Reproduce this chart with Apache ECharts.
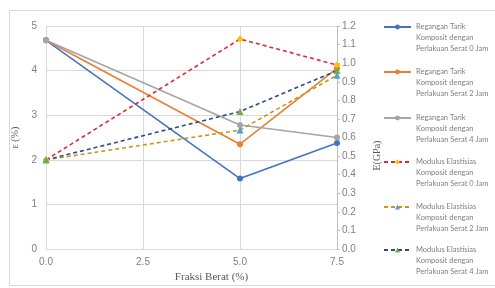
<!DOCTYPE html>
<html>
<head>
<meta charset="utf-8">
<script src="https://cdn.jsdelivr.net/npm/echarts@6/dist/echarts.min.js"></script>
<style>html,body{margin:0;padding:0;background:#fff}#c{width:495px;height:288px}</style>
</head>
<body>
<div id="c"></div>
<script>
var fractions = [0, 5, 7.5];
var xTicks = ['0.0', '2.5', '5.0', '7.5'];
var seriesNames = [
  'Regangan Tarik\nKomposit dengan\nPerlakuan Serat 0 Jam',
  'Regangan Tarik\nKomposit dengan\nPerlakuan Serat 2 Jam',
  'Regangan Tarik\nKomposit dengan\nPerlakuan Serat 4 Jam',
  'Modulus Elastisias\nKomposit dengan\nPerlakuan Serat 0 Jam',
  'Modulus Elastisias\nKomposit dengan\nPerlakuan Serat 2 Jam',
  'Modulus Elastisias\nKomposit dengan\nPerlakuan Serat 4 Jam'
];
var regangan0 = [4.68, 1.58, 2.38];
var regangan2 = [4.68, 2.35, 4.05];
var regangan4 = [4.68, 2.78, 2.50];
var modulus0 = [0.48, 1.13, 0.99];
var modulus2 = [0.48, 0.64, 0.935];
var modulus4 = [0.48, 0.74, 0.96];

function pairs(vals) { return vals.map(function (v, i) { return [fractions[i], v]; }); }

var chart = echarts.init(document.getElementById('c'), null, {renderer: 'canvas'});
var labelColor = '#7f7f7f';
var serif = '"Liberation Serif", "DejaVu Serif", serif';

function solid(name, data, color) {
  return {
    name: name, type: 'line', yAxisIndex: 0, data: pairs(data),
    symbol: 'circle', symbolSize: 6,
    lineStyle: {color: color, width: 1.6},
    itemStyle: {color: color},
    animation: false
  };
}
function dashed(name, data, lineColor, markColor, symbol, size) {
  return {
    name: name, type: 'line', yAxisIndex: 1, data: pairs(data),
    symbol: symbol, symbolSize: size,
    lineStyle: {color: lineColor, width: 1.6, type: [4, 3]},
    itemStyle: {color: markColor},
    animation: false
  };
}

var legendCenters = [27, 72, 118, 162, 207, 250];
var legends = seriesNames.map(function (n, i) {
  return {
    orient: 'vertical', left: 383, top: legendCenters[i] - 27.5, padding: 0,
    itemWidth: 27, itemHeight: 6,
    data: [n],
    formatter: function (s) { return '\n\n' + s; },
    textStyle: {color: labelColor, fontSize: 7.5, lineHeight: 11, fontFamily: 'Lato, "Open Sans", sans-serif'}
  };
});

chart.setOption({
  animation: false,
  graphic: [{
    type: 'rect', left: 7, top: 8, silent: true,
    shape: {width: 500, height: 275},
    style: {fill: 'none', stroke: '#d9d9d9', lineWidth: 1}
  }],
  grid: {left: 46, right: 158, top: 26, bottom: 31},
  legend: legends,
  xAxis: {
    type: 'value', min: 0, max: 7.5, interval: 2.5,
    name: 'Fraksi Berat (%)', nameLocation: 'middle', nameGap: 22,
    nameTextStyle: {color: '#595959', fontSize: 11, fontFamily: serif, padding: [0, 0, 0, 40]},
    axisLine: {show: true, lineStyle: {color: '#d9d9d9'}},
    axisTick: {show: false},
    axisLabel: {color: labelColor, fontSize: 10, margin: 8,
      formatter: function (v) { return xTicks[Math.round(v / 2.5)]; }},
    splitLine: {show: true, lineStyle: {color: '#d9d9d9'}}
  },
  yAxis: [{
    type: 'value', min: 0, max: 5, interval: 1,
    name: 'ε (%)', nameLocation: 'middle', nameGap: 24, nameRotate: 90,
    nameTextStyle: {color: '#595959', fontSize: 10, fontFamily: serif},
    axisLine: {show: true, lineStyle: {color: '#d9d9d9'}},
    axisTick: {show: false},
    axisLabel: {color: labelColor, fontSize: 10, margin: 9},
    splitLine: {show: true, lineStyle: {color: '#d9d9d9'}}
  }, {
    type: 'value', min: 0, max: 1.2, interval: 0.1, position: 'right',
    name: 'E(GPa)', nameLocation: 'middle', nameGap: 35, nameRotate: 90,
    nameTextStyle: {color: '#595959', fontSize: 10, fontFamily: serif, padding: [0, 36, 0, 0]},
    axisLine: {show: true, lineStyle: {color: '#bfbfbf'}},
    axisTick: {show: true, length: 3, lineStyle: {color: '#bfbfbf'}},
    axisLabel: {color: labelColor, fontSize: 10, margin: 5,
      formatter: function (v) { return v.toFixed(1); }},
    splitLine: {show: false}
  }],
  series: [
    solid(seriesNames[0], regangan0, '#4472C4'),
    solid(seriesNames[1], regangan2, '#ED7D31'),
    solid(seriesNames[2], regangan4, '#A5A5A5'),
    dashed(seriesNames[3], modulus0, '#E0283C', '#FFC000', 'diamond', 7),
    dashed(seriesNames[4], modulus2, '#C09A1E', '#5B9BD5', 'triangle', 7),
    dashed(seriesNames[5], modulus4, '#2E4A86', '#70AD47', 'triangle', 7)
  ]
});
</script>
</body>
</html>
